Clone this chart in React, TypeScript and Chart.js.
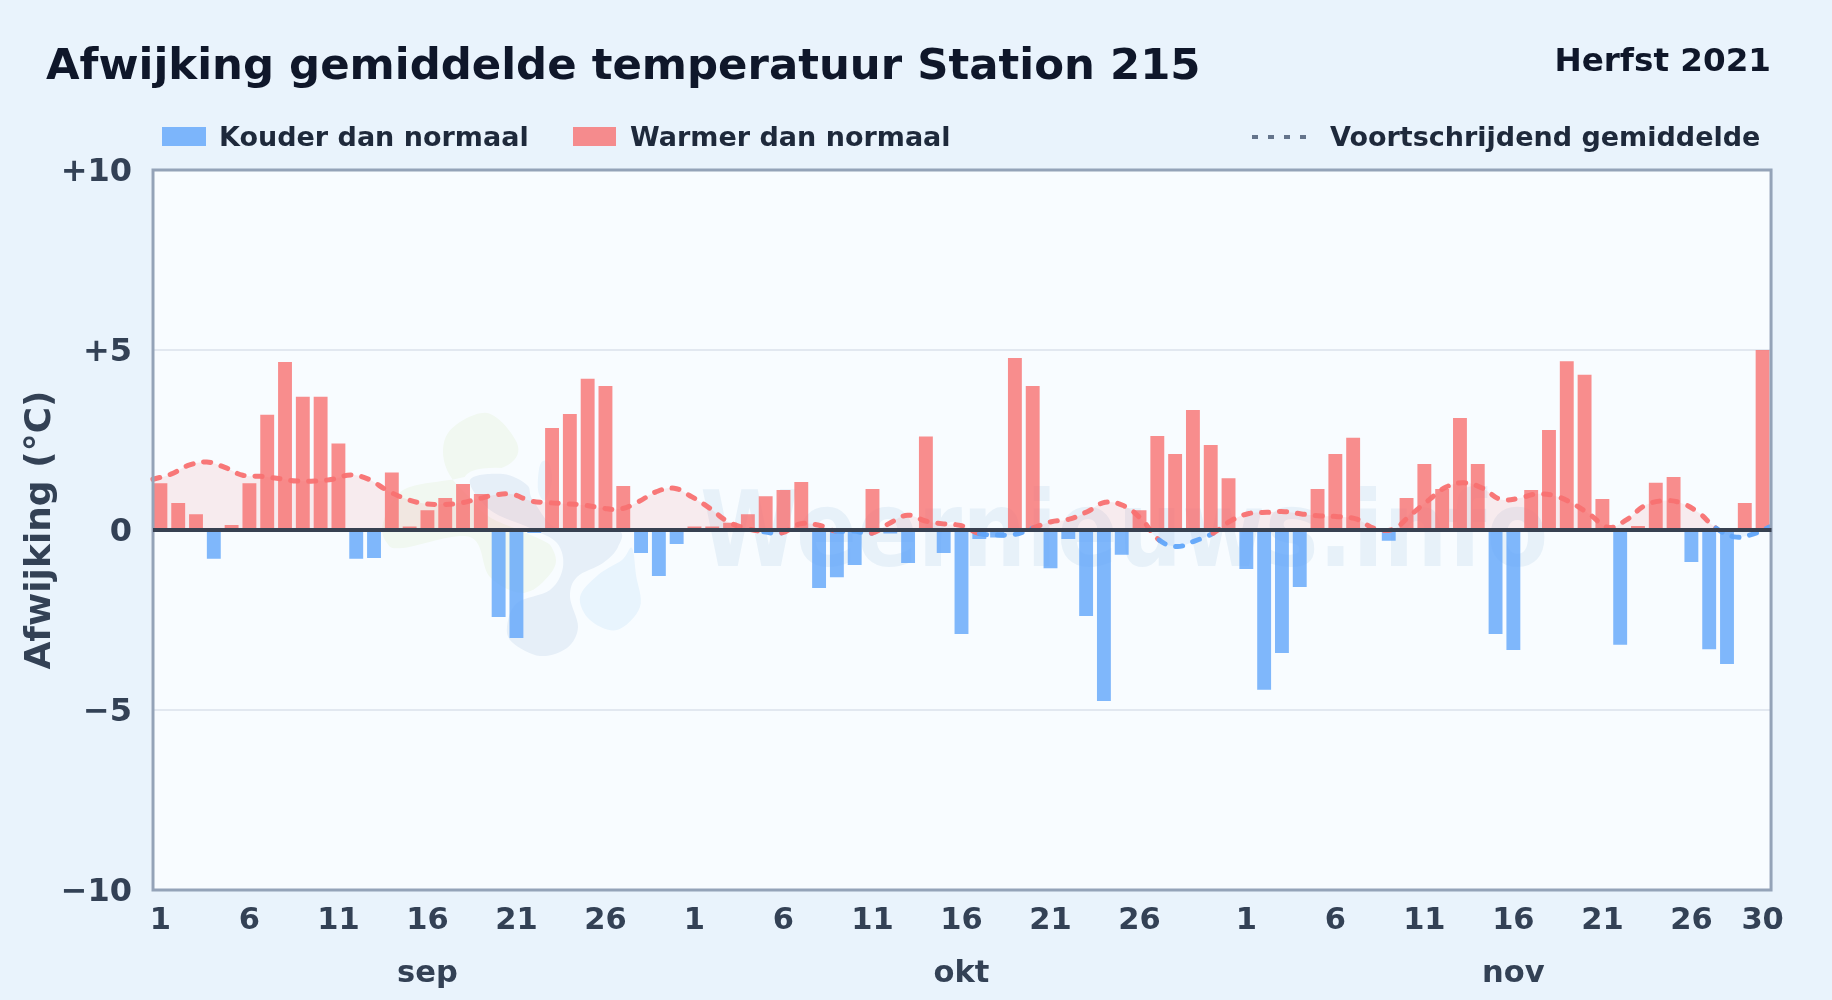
import React, { useEffect, useRef } from "react";
import { Chart, registerables } from "chart.js";

Chart.register(...registerables);

const FONT = "'DejaVu Sans', sans-serif";

const monthLabels = ["sep", "okt", "nov"];
const monthLengths = [30, 31, 30];
const tickDays = [1, 6, 11, 16, 21, 26];
const yTickLabels: Record<string, string> = { "10": "+10", "5": "+5", "0": "0", "-5": "\u22125", "-10": "\u221210" };

const deviations = [
  1.3, 0.75, 0.44, -0.8, 0.14, 1.3, 3.2, 4.67, 3.7, 3.7, 2.4, -0.8, -0.78, 1.6, 0.1, 0.55, 0.89, 1.28, 1.0, -2.42,
  -3.0, -0.08, 2.83, 3.22, 4.2, 4.0, 1.22, -0.64, -1.28, -0.39,
  0.1, 0.1, 0.2, 0.44, 0.94, 1.11, 1.33, -1.61, -1.31, -0.97, 1.14, -0.1, -0.92, 2.6, -0.64, -2.89, -0.25, -0.21,
  4.78, 4.0, -1.06, -0.25, -2.39, -4.75, -0.69, 0.55, 2.61, 2.11, 3.33, 2.36, 1.44,
  -1.08, -4.44, -3.42, -1.58, 1.14, 2.11, 2.56, 0, -0.3, 0.89, 1.83, 1.14, 3.11, 1.83, -2.89, -3.33, 1.11, 2.78,
  4.69, 4.31, 0.86, -3.19, 0.11, 1.31, 1.47, -0.89, -3.31, -3.72, 0.75, 5.0,
];

const rollingMean = [
  1.41, 1.55, 1.8, 1.89, 1.74, 1.52, 1.49, 1.43, 1.36, 1.36, 1.41, 1.53, 1.41, 1.11, 0.88, 0.74, 0.71, 0.74, 0.85,
  0.97, 0.99, 0.81, 0.76, 0.73, 0.69, 0.61, 0.58, 0.78, 1.06, 1.16, 0.92, 0.6, 0.23, 0.05, -0.05, -0.08, 0.17, 0.14,
  -0.03, -0.03, -0.09, 0.19, 0.41, 0.25, 0.17, 0.12, -0.1, -0.14, -0.12, 0.06, 0.23, 0.3, 0.51, 0.77, 0.68, 0.31,
  -0.28, -0.46, -0.3, -0.09, 0.26, 0.46, 0.49, 0.51, 0.44, 0.39, 0.37, 0.3, 0.04, 0.02, 0.42, 0.83, 1.2, 1.31, 1.16,
  0.85, 0.88, 1.0, 0.95, 0.74, 0.42, 0.07, 0.28, 0.67, 0.81, 0.76, 0.49, 0.05, -0.19, -0.12, 0.09,
];

const dayLabels: string[] = [];
const tickText: (string | string[])[] = [];
monthLengths.forEach((len, m) => {
  for (let d = 1; d <= len; d++) {
    dayLabels.push(`${d} ${monthLabels[m]}`);
    const isTick = tickDays.includes(d) || (m === 2 && d === 30);
    tickText.push(isTick ? (d === 16 ? [String(d), monthLabels[m]] : String(d)) : "");
  }
});

const BLUE = "rgba(96,165,250,0.8)";
const RED = "rgba(248,113,113,0.8)";
const LINE_RED = "rgba(248,113,113,0.95)";
const LINE_BLUE = "rgba(96,165,250,0.95)";
const PLOT_BG = "#f8fcff";
const FRAME_INSET = 1.5;

const blob = (ctx: CanvasRenderingContext2D, fill: string, pts: number[][], halo = false) => {
  const n = pts.length;
  ctx.beginPath();
  ctx.moveTo(pts[0][0], pts[0][1]);
  for (let i = 0; i < n; i++) {
    const p0 = pts[(i - 1 + n) % n];
    const p1 = pts[i];
    const p2 = pts[(i + 1) % n];
    const p3 = pts[(i + 2) % n];
    ctx.bezierCurveTo(
      p1[0] + (p2[0] - p0[0]) / 6,
      p1[1] + (p2[1] - p0[1]) / 6,
      p2[0] - (p3[0] - p1[0]) / 6,
      p2[1] - (p3[1] - p1[1]) / 6,
      p2[0],
      p2[1],
    );
  }
  ctx.closePath();
  if (halo) {
    ctx.strokeStyle = PLOT_BG;
    ctx.lineWidth = 12;
    ctx.stroke();
  }
  ctx.fillStyle = fill;
  ctx.fill();
};

const backdrop = {
  id: "backdrop",
  beforeDraw(chart: Chart) {
    const { ctx, width, height, chartArea: a } = chart;
    ctx.save();
    ctx.fillStyle = "#e9f3fc";
    ctx.fillRect(0, 0, width, height);
    ctx.fillStyle = PLOT_BG;
    ctx.fillRect(a.left, a.top, a.width, a.height);
    ctx.restore();
  },
  beforeDatasetsDraw(chart: Chart) {
    const { ctx, chartArea: a } = chart;
    ctx.save();
    ctx.beginPath();
    ctx.rect(a.left, a.top, a.width, a.height);
    ctx.clip();
    blob(ctx, "#f1f8f1", [
      [448, 433], [487, 413], [517, 443], [508, 465], [460, 478], [403, 490], [383, 523], [387, 543], [403, 548],
      [470, 537], [490, 577], [525, 593], [553, 570], [553, 550], [533, 528], [480, 505], [447, 470],
    ]);
    blob(ctx, "#e6eff8", [
      [470, 480], [503, 474], [527, 485], [533, 500], [560, 530], [617, 530], [618, 547], [603, 563], [577, 577],
      [570, 597], [578, 627], [567, 648], [540, 656], [513, 643], [507, 627], [517, 603], [550, 590], [563, 567],
      [557, 543], [530, 528], [490, 510],
    ], true);
    blob(ctx, "#e8f4fd", [
      [580, 597], [598, 575], [622, 560], [632, 548], [636, 575], [640, 607], [617, 630], [590, 620],
    ]);
    blob(ctx, "#e9f4fc", [
      [540, 465], [548, 462], [552, 480], [545, 500], [538, 490],
    ]);
    ctx.translate(700, 566);
    ctx.scale(0.848, 1);
    ctx.fillStyle = "rgba(58,122,185,0.085)";
    ctx.font = `bold 106px ${FONT}`;
    ctx.textAlign = "left";
    ctx.textBaseline = "alphabetic";
    ctx.fillText("Weernieuws.info", 0, 0);
    ctx.restore();
  },
  afterDraw(chart: Chart) {
    const { ctx, chartArea: a, scales } = chart;
    const y0 = scales.y.getPixelForValue(0);
    ctx.save();
    ctx.fillStyle = "#e9f3fc";
    ctx.fillRect(a.right - FRAME_INSET + 1, a.top, FRAME_INSET + 1, a.height);
    ctx.strokeStyle = "#94a3b8";
    ctx.lineWidth = 3;
    ctx.strokeRect(a.left + FRAME_INSET, a.top, a.width - FRAME_INSET * 1.3, a.height);
    ctx.strokeStyle = "#374151";
    ctx.lineWidth = 4;
    ctx.beginPath();
    ctx.moveTo(a.left + FRAME_INSET, y0);
    ctx.lineTo(a.right, y0);
    ctx.stroke();

    ctx.textBaseline = "alphabetic";
    ctx.textAlign = "left";
    ctx.fillStyle = "#0f172a";
    ctx.font = `bold 43.4px ${FONT}`;
    ctx.fillText("Afwijking gemiddelde temperatuur Station 215", 46, 79);
    ctx.textAlign = "right";
    ctx.font = `bold 32.6px ${FONT}`;
    ctx.fillText("Herfst 2021", 1771, 71);

    ctx.textAlign = "left";
    ctx.font = `bold 27px ${FONT}`;
    ctx.fillStyle = "#1e293b";
    ctx.fillText("Kouder dan normaal", 219, 146);
    ctx.fillText("Warmer dan normaal", 630, 146);
    ctx.fillText("Voortschrijdend gemiddelde", 1330, 146);
    ctx.fillStyle = BLUE;
    ctx.fillRect(162, 127, 44, 19);
    ctx.fillStyle = RED;
    ctx.fillRect(573, 127, 43, 19);
    ctx.strokeStyle = "#64748b";
    ctx.lineWidth = 4;
    ctx.setLineDash([6, 10]);
    ctx.beginPath();
    ctx.moveTo(1252, 137);
    ctx.lineTo(1306, 137);
    ctx.stroke();
    ctx.restore();
  },
};

export default function App() {
  const ref = useRef<HTMLCanvasElement>(null);
  useEffect(() => {
    document.body.style.margin = "0";
    const last = rollingMean.length - 1;
    const chart = new Chart(ref.current!, {
      type: "bar",
      plugins: [backdrop],
      data: {
        labels: dayLabels,
        datasets: [
          {
            type: "line",
            label: "Voortschrijdend gemiddelde",
            parsing: false,
            // the curve runs from frame edge to frame edge, about half a category beyond the first and last bar
            data: rollingMean.map((v, i) => ({ x: -0.42 + (i * (last + 0.84)) / last, y: v })),
            borderWidth: 5,
            borderColor: LINE_RED,
            borderDash: [7, 11],
            borderCapStyle: "round",
            pointRadius: 0,
            tension: 0.4,
            order: 0,
            fill: { target: "origin", above: "rgba(248,113,113,0.12)", below: "rgba(96,165,250,0.12)" },
            segment: {
              borderColor: (c: any) => (c.p0.parsed.y + c.p1.parsed.y < 0 ? LINE_BLUE : LINE_RED),
            },
          } as any,
          {
            label: "Kouder dan normaal",
            data: deviations.map((v) => (v < 0 ? v : null)),
            backgroundColor: BLUE,
            stack: "d",
            barPercentage: 0.78,
            categoryPercentage: 1,
            order: 1,
          },
          {
            label: "Warmer dan normaal",
            data: deviations.map((v) => (v >= 0 ? v : null)),
            backgroundColor: RED,
            stack: "d",
            barPercentage: 0.78,
            categoryPercentage: 1,
            order: 1,
          },
        ],
      },
      options: {
        responsive: false,
        animation: false,
        devicePixelRatio: 1,
        layout: { padding: { top: 170, right: 60.5, left: 19, bottom: 0 } },
        plugins: { legend: { display: false }, title: { display: false }, tooltip: { enabled: false } },
        scales: {
          x: {
            stacked: true,
            offset: true,
            grid: { display: false },
            border: { display: false },
            afterFit: (s: any) => {
              s.height = 110;
            },
            ticks: {
              autoSkip: false,
              maxRotation: 0,
              minRotation: 0,
              padding: -3,
              color: "#334155",
              font: { family: FONT, size: 30.5, weight: "bold", lineHeight: 1.72 },
              callback: (_v: any, i: number) => tickText[i],
            },
          },
          y: {
            min: -10,
            max: 10,
            grid: { color: "#e2e8f0", lineWidth: 2, drawTicks: false },
            border: { display: false },
            afterFit: (s: any) => {
              s.width = 132.5;
            },
            title: {
              display: true,
              text: "Afwijking (\u00b0C)",
              color: "#334155",
              padding: 0,
              font: { family: FONT, size: 36, weight: "bold" },
            },
            ticks: {
              stepSize: 5,
              padding: 19.5,
              labelOffset: 3,
              color: "#334155",
              font: { family: FONT, size: 32, weight: "bold" },
              callback: (v: any) => yTickLabels[String(v)],
            },
          },
        },
      } as any,
    });
    return () => chart.destroy();
  }, []);
  return <canvas ref={ref} width={1832} height={1000} style={{ display: "block" }} />;
}
